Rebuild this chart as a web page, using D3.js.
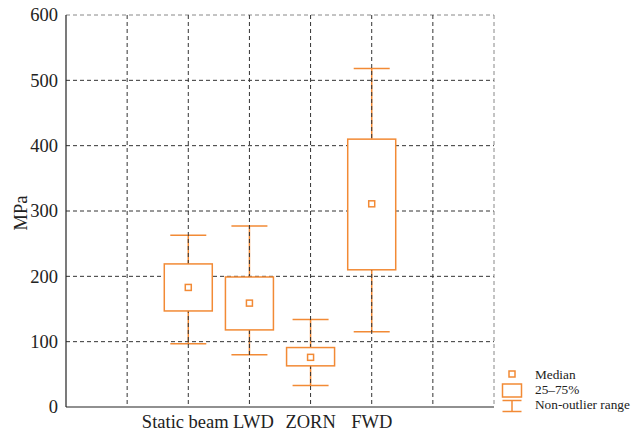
<!DOCTYPE html>
<html>
<head>
<meta charset="utf-8">
<script src="https://cdn.jsdelivr.net/npm/d3@7"></script>
<style>
  body { margin: 0; background: #fff; }
</style>
</head>
<body>
<svg width="644" height="434"></svg>
<script>
const svg = d3.select('svg')
  .attr('font-family', "'Liberation Serif', 'Times New Roman', Times, serif");

// data
const categories = ['Static beam', 'LWD', 'ZORN', 'FWD'];
const whiskerLow = [97, 80, 33, 115];
const q1 = [147, 118, 63, 210];
const medians = [183, 159, 76, 311];
const q3 = [219, 199, 91, 410];
const whiskerHigh = [263, 277, 134, 518];
const yTicks = [0, 100, 200, 300, 400, 500, 600];
const legendLabels = ['Median', '25–75%', 'Non-outlier range'];

const orange = '#f28a35';
const margin = { top: 15, left: 66, right: 150, bottom: 27 };
const width = 644, height = 434;
const innerW = width - margin.left - margin.right;
const innerH = height - margin.top - margin.bottom;

const slots = ['s0', 's1', ...categories, 's6', 's7'];
const x = d3.scalePoint().domain(slots).range([0, innerW]);
const y = d3.scaleLinear().domain([0, 600]).range([innerH, 0]);

const g = svg.append('g').attr('transform', `translate(${margin.left},${margin.top})`);

const rows = categories.map((c, i) => ({
  cat: c, lo: whiskerLow[i], q1: q1[i], med: medians[i], q3: q3[i], hi: whiskerHigh[i]
}));

const boxW = 48, capW = 36, medS = 6;

// whiskers (under the grid)
const wg = g.append('g');
rows.forEach(d => {
  const cx = x(d.cat);
  wg.append('line').attr('x1', cx).attr('x2', cx).attr('y1', y(d.hi)).attr('y2', y(d.q3))
    .attr('stroke', orange).attr('stroke-width', 1.5);
  wg.append('line').attr('x1', cx).attr('x2', cx).attr('y1', y(d.q1)).attr('y2', y(d.lo))
    .attr('stroke', orange).attr('stroke-width', 1.5);
  [d.hi, d.lo].forEach(v => {
    wg.append('line').attr('x1', cx - capW / 2).attr('x2', cx + capW / 2)
      .attr('y1', y(v)).attr('y2', y(v))
      .attr('stroke', orange).attr('stroke-width', 1.5);
  });
});

// grid
const grid = g.append('g').attr('stroke', '#333').attr('stroke-width', 1)
  .attr('stroke-dasharray', '4,3');
grid.selectAll('.h').data(yTicks.slice(1)).enter().append('line')
  .attr('x1', 0).attr('x2', innerW).attr('y1', d => y(d)).attr('y2', d => y(d))
  .attr('stroke', d => d === 600 ? '#888' : null);
grid.selectAll('.v').data(slots.slice(1)).enter().append('line')
  .attr('x1', d => x(d)).attr('x2', d => x(d)).attr('y1', 0).attr('y2', innerH)
  .attr('stroke', d => d === 's7' ? '#888' : null);

// boxes
rows.forEach(d => {
  const cx = x(d.cat);
  g.append('rect').attr('x', cx - boxW / 2).attr('y', y(d.q3))
    .attr('width', boxW).attr('height', y(d.q1) - y(d.q3))
    .attr('fill', '#fff').attr('stroke', orange).attr('stroke-width', 1.5);
  g.append('rect').attr('x', cx - medS / 2).attr('y', y(d.med) - medS / 2)
    .attr('width', medS).attr('height', medS)
    .attr('fill', '#fff').attr('stroke', orange).attr('stroke-width', 1.5);
});

// axes
g.append('line').attr('x1', 0).attr('x2', 0).attr('y1', 0).attr('y2', innerH)
  .attr('stroke', '#222').attr('stroke-width', 1.2);
g.append('line').attr('x1', 0).attr('x2', innerW).attr('y1', innerH).attr('y2', innerH)
  .attr('stroke', '#222').attr('stroke-width', 1.2);

g.selectAll('.ytick').data(yTicks).enter().append('text')
  .attr('x', -8).attr('y', d => y(d)).attr('dy', '0.35em')
  .attr('text-anchor', 'end').attr('font-size', 18.5).attr('fill', '#222')
  .text(d => d);

const labelShift = { 'Static beam': -3, 'LWD': 4 };
g.selectAll('.xlab').data(categories).enter().append('text')
  .attr('x', d => x(d) + (labelShift[d] || 0)).attr('y', innerH + 21)
  .attr('text-anchor', 'middle').attr('font-size', 18.5).attr('fill', '#222')
  .text(d => d);

svg.append('text').attr('transform', `translate(27,${margin.top + innerH / 2 + 2}) rotate(-90)`)
  .attr('text-anchor', 'middle').attr('font-size', 18.5).attr('fill', '#222')
  .text('MPa');

// legend
const lg = svg.append('g').attr('transform', 'translate(512,0)');
lg.append('rect').attr('x', -3).attr('y', 371).attr('width', 6).attr('height', 6)
  .attr('fill', '#fff').attr('stroke', orange).attr('stroke-width', 1.5);
lg.append('rect').attr('x', -9.5).attr('y', 384).attr('width', 19).attr('height', 13)
  .attr('fill', '#fff').attr('stroke', orange).attr('stroke-width', 1.5);
lg.append('line').attr('x1', -9.5).attr('x2', 9.5).attr('y1', 400.5).attr('y2', 400.5)
  .attr('stroke', orange).attr('stroke-width', 1.5);
lg.append('line').attr('x1', -9.5).attr('x2', 9.5).attr('y1', 411.5).attr('y2', 411.5)
  .attr('stroke', orange).attr('stroke-width', 1.5);
lg.append('line').attr('x1', 0).attr('x2', 0).attr('y1', 400.5).attr('y2', 411.5)
  .attr('stroke', orange).attr('stroke-width', 1.5);
lg.selectAll('.lt').data(legendLabels).enter().append('text')
  .attr('x', 23).attr('y', (d, i) => 379 + i * 15)
  .attr('font-size', 13.3).attr('fill', '#222')
  .text(d => d);
</script>
</body>
</html>
